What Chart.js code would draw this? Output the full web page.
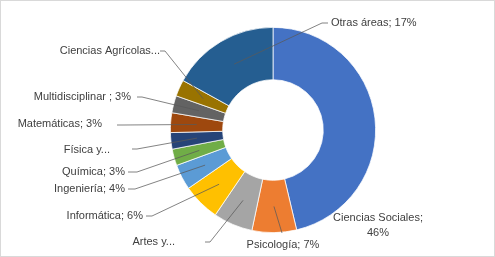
<!DOCTYPE html>
<html>
<head>
<meta charset="utf-8">
<script src="https://cdn.jsdelivr.net/npm/chart.js@4"></script>
<style>
  html, body { margin: 0; padding: 0; background: #fff; }
  #wrap { width: 495px; height: 257px; }
</style>
</head>
<body>
<div id="wrap"><canvas id="myChart" width="495" height="257"></canvas></div>
<script>
// data (clockwise from 12 o'clock)
const areas = ['Ciencias Sociales', 'Psicología', 'Artes y...', 'Informática', 'Ingeniería',
  'Química', 'Física y...', 'Matemáticas', 'Multidisciplinar', 'Ciencias Agrícolas...', 'Otras áreas'];
const shares = [46.3, 7.0, 6.2, 5.9, 4.0, 2.6, 2.6, 3.1, 2.7, 2.6, 17.0];
// label text as shown in the chart
const labelText = [
  ['Ciencias Sociales;', '46%'], ['Psicología; 7%'], ['Artes y...'], ['Informática; 6%'],
  ['Ingeniería; 4%'], ['Química; 3%'], ['Física y...'], ['Matemáticas; 3%'],
  ['Multidisciplinar ; 3%'], ['Ciencias Agrícolas...'], ['Otras áreas; 17%']
];
const colors = ['#4472C4', '#ED7D31', '#A5A5A5', '#FFC000', '#5B9BD5', '#70AD47',
  '#264478', '#9E480E', '#636363', '#997300', '#255E91'];

// where each label sits (text x/y, alignment, elbow of leader line, tick end)
const labelLayout = [
  { x: 378, y: 218, align: 'center' },
  { x: 283, y: 245, align: 'center', ex: 282, ey: 233 },
  { x: 175, y: 242, align: 'right', ex: 210, ey: 242, hx: 205 },
  { x: 143, y: 216, align: 'right', ex: 152, ey: 216, hx: 146 },
  { x: 125, y: 189, align: 'right', ex: 135, ey: 189, hx: 128 },
  { x: 125, y: 172, align: 'right', ex: 137, ey: 172, hx: 128 },
  { x: 110, y: 150, align: 'right', ex: 137, ey: 149, hx: 132 },
  { x: 102, y: 124, align: 'right', ex: 123, ey: 125, hx: 117 },
  { x: 131, y: 97, align: 'right', ex: 142, ey: 97, hx: 137 },
  { x: 160, y: 51, align: 'right', ex: 165, ey: 51, hx: 160 },
  { x: 331, y: 23, align: 'left', ex: 322, ey: 23, hx: 328 }
];

const outerLabels = {
  id: 'outerLabels',
  afterDatasetsDraw(chart) {
    const ctx = chart.ctx;
    const arcs = chart.getDatasetMeta(0).data;
    ctx.save();
    // frame
    ctx.strokeStyle = '#d9d9d9';
    ctx.lineWidth = 1;
    ctx.strokeRect(0.5, 0.5, chart.width - 1, chart.height - 1);

    ctx.strokeStyle = '#595959';
    ctx.lineWidth = 0.75;
    arcs.forEach((arc, i) => {
      const L = labelLayout[i];
      if (L.ex === undefined) return;
      const p = arc.getCenterPoint();
      ctx.beginPath();
      ctx.moveTo(p.x, p.y);
      ctx.lineTo(L.ex, L.ey);
      if (L.hx !== undefined) ctx.lineTo(L.hx, L.ey);
      ctx.stroke();
    });

    ctx.fillStyle = '#404040';
    ctx.font = '11px "Liberation Sans"';
    ctx.textBaseline = 'middle';
    labelText.forEach((lines, i) => {
      const L = labelLayout[i];
      ctx.textAlign = L.align;
      lines.forEach((t, k) => ctx.fillText(t, L.x, L.y + k * 15));
    });
    ctx.restore();
  }
};

new Chart(document.getElementById('myChart'), {
  type: 'doughnut',
  data: {
    labels: areas,
    datasets: [{
      data: shares,
      backgroundColor: colors,
      borderColor: '#ffffff',
      borderWidth: 0.75
    }]
  },
  options: {
    responsive: false,
    animation: false,
    cutout: '49%',
    layout: { padding: { left: 170, right: 119, top: 27, bottom: 24 } },
    plugins: {
      legend: { display: false },
      tooltip: { enabled: false }
    }
  },
  plugins: [outerLabels]
});
</script>
</body>
</html>
